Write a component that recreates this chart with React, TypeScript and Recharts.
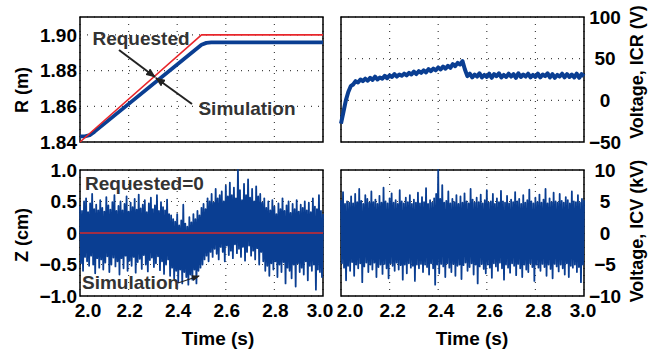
import { LineChart, Line, XAxis, YAxis, CartesianGrid, ReferenceArea } from "recharts";

const FONT = "'Liberation Sans', Arial, Helvetica, sans-serif";
const BLUE = "#0a3e92";
const RED = "#e8262b";

const xTicks = [2.0, 2.2, 2.4, 2.6, 2.8, 3.0];

// R (m): requested ramp vs simulation
const rReqTime = [2.0, 2.5, 3.0];
const rReq = [1.84, 1.9, 1.9];
const rSimTime = [2.0, 2.02, 2.04, 2.06, 2.5, 2.52, 2.54, 3.0];
const rSim = [1.8432, 1.8432, 1.8438, 1.8458, 1.8945, 1.8955, 1.8958, 1.8958];
const rTicks = [1.84, 1.86, 1.88, 1.9];

// Voltage ICR (V), one value every 10 ms from 2.00 s
const icr = [
  -28, -14, 0, 10, 17, 19, 23, 21.5, 25, 23,
  26, 23.5, 27, 24.5, 28.5, 25, 27.5, 26, 29.5, 26.5,
  30, 28, 31.5, 28.5, 31, 29.5, 32, 30, 33, 31,
  34.5, 31.5, 35, 33, 36, 33.5, 37.5, 35, 38, 36,
  39.5, 37, 40.5, 38, 41.5, 39, 43.5, 41, 45, 43,
  47, 37, 29, 32, 27.5, 31, 28.5, 32.5, 27.5, 30.5,
  28, 32, 27, 31.5, 29, 32.5, 27.5, 30.5, 28, 32,
  28.5, 31.5, 27, 32.5, 28, 31, 28.5, 32, 27.5, 30.5,
  28, 32, 27.5, 31, 29, 32.5, 27.5, 31.5, 27, 30.5,
  28.5, 32, 27.5, 31.5, 28, 31, 27.5, 32, 27, 31.5,
  29,
];
const icrTicks = [-50, 0, 50, 100];

// Z (cm), 240 samples per second from 2.00 s
const zSim = [
  0.42, -0.48, 0.35, -0.6, 0.5, -0.38, 0.55, -0.45, 0.33, -0.52,
  0.47, -0.36, 0.62, -0.5, 0.38, -0.64, 0.45, -0.4, 0.36, -0.55,
  0.52, -0.42, 0.4, -0.58, 0.34, -0.47, 0.57, -0.37, 0.44, -0.62,
  0.37, -0.5, 0.49, -0.39, 0.6, -0.53, 0.35, -0.45, 0.43, -0.66,
  0.5, -0.4, 0.36, -0.56, 0.46, -0.36, 0.58, -0.6, 0.34, -0.44,
  0.48, -0.52, 0.41, -0.38, 0.54, -0.63, 0.37, -0.46, 0.61, -0.41,
  0.39, -0.57, 0.45, -0.35, 0.52, -0.5, 0.33, -0.61, 0.47, -0.43,
  0.56, -0.39, 0.38, -0.54, 0.44, -0.48, 0.6, -0.37, 0.35, -0.59,
  0.49, -0.45, 0.41, -0.65, 0.36, -0.5, 0.53, -0.42, 0.3, -0.68,
  0.28, -0.55, 0.22, -0.72, 0.18, -0.6, 0.3, -0.78, 0.12, -0.58,
  0.2, -0.8, 0.45, -0.62, 0.15, -0.7, 0.1, -0.82, 0.25, -0.66,
  0.17, -0.74, 0.3, -0.58, 0.22, -0.8, 0.35, -0.6, 0.28, -0.55,
  0.4, -0.5, 0.46, -0.42, 0.38, -0.36, 0.55, -0.45, 0.5, -0.3,
  0.62, -0.38, 0.48, -0.25, 0.7, -0.33, 0.55, -0.42, 0.6, -0.22,
  0.66, -0.3, 0.5, -0.45, 0.75, -0.2, 0.58, -0.35, 0.8, -0.28,
  0.6, -0.4, 0.72, -0.18, 0.55, -0.32, 1.0, -0.25, 0.68, -0.38,
  0.52, -0.22, 0.78, -0.44, 0.6, -0.3, 0.85, -0.2, 0.56, -0.36,
  0.7, -0.28, 0.5, -0.42, 0.74, -0.24, 0.58, -0.5, 0.62, -0.3,
  0.48, -0.45, 0.55, -0.6, 0.4, -0.52, 0.5, -0.68, 0.36, -0.48,
  0.52, -0.58, 0.42, -0.45, 0.3, -0.7, 0.47, -0.5, 0.38, -0.62,
  0.55, -0.46, 0.35, -0.8, 0.44, -0.55, 0.5, -0.6, 0.32, -0.72,
  0.46, -0.5, 0.38, -0.85, 0.52, -0.48, 0.34, -0.62, 0.45, -0.55,
  0.4, -0.66, 0.5, -0.45, 0.36, -0.75, 0.48, -0.52, 0.33, -0.6,
  0.55, -0.5, 0.42, -0.9, 0.38, -0.58, 0.6, -0.62, 0.35, -0.7,
  0.3,
];
const zReq = [0, 0];
const zReqTime = [2.0, 3.0];
const zTicks = [-1, -0.5, 0, 0.5, 1];

// Voltage ICV (kV), 240 samples per second from 2.00 s
const icv = [
  5.2, -4.8, 6.5, -5.5, 4.6, -7.5, 5, -5.2, 4.8, -6,
  5.8, -4.6, 4.7, -6.8, 6.2, -5, 4.9, -5.6, 7, -4.8,
  5.1, -7.8, 4.6, -5.3, 6, -4.7, 5.4, -6.2, 4.8, -5,
  6.6, -5.8, 4.9, -4.7, 5.3, -7, 4.6, -5.4, 5.9, -5,
  4.8, -6.5, 7.2, -4.9, 5, -5.6, 4.7, -7.2, 5.5, -4.8,
  6.3, -5.2, 4.8, -6, 5.2, -4.7, 4.6, -5.8, 6.8, -5.1,
  5, -7.4, 4.7, -5, 5.6, -6.4, 4.9, -4.8, 6, -5.5,
  4.6, -5.2, 5.3, -7.6, 4.8, -5, 6.4, -5.6, 4.7, -4.9,
  5.7, -6.2, 4.9, -5, 7.1, -5.4, 4.6, -6.6, 5.2, -4.8,
  4.8, -5.6, 5.5, -8.2, 6.2, -5, 10, -6.4, 5.4, -4.9,
  7.6, -5.3, 4.8, -7, 5.1, -4.8, 6.6, -5.5, 4.7, -6.2,
  5.4, -4.9, 4.9, -6.8, 6, -5.2, 4.6, -5, 5.8, -7.3,
  4.8, -5.1, 6.3, -4.7, 5, -6, 4.7, -5.4, 7, -4.8,
  5.3, -6.6, 4.8, -5, 5.6, -8, 4.9, -5.3, 6.1, -4.9,
  4.7, -5.7, 5.2, -6.4, 6.8, -5, 4.8, -5.5, 5, -7.1,
  6.2, -4.8, 4.6, -5.3, 5.5, -6, 4.9, -4.7, 6.7, -5.6,
  5, -7.4, 4.8, -5, 5.9, -5.5, 4.7, -6.3, 5.3, -4.8,
  4.9, -5.2, 6.5, -6.7, 5, -4.9, 5.4, -5.6, 4.6, -7,
  6, -5, 4.8, -5.8, 5.2, -6.2, 6.9, -4.8, 5, -5.4,
  4.7, -7.6, 5.6, -5, 4.9, -5.5, 6.1, -6, 4.8, -4.9,
  5.3, -5.4, 7, -6.8, 4.7, -5, 5.5, -5.7, 4.9, -7.2,
  6.4, -4.9, 5, -5.3, 4.8, -6.1, 6.2, -5, 5.1, -5.6,
  4.8, -6.6, 5.7, -4.8, 5.2, -7, 4.7, -5.2, 6.6, -5.5,
  5, -5, 4.9, -6.2, 6, -5.4, 4.8, -7.8, 5.4, -5,
  5.2,
];
const icvTicks = [-10, -5, 0, 5, 10];

type Pt = { t: number; v: number };
type Series = { data: Pt[]; color: string; width: number };

const pair = (ts: number[], vs: number[]): Pt[] => vs.map((v, i) => ({ t: ts[i], v }));
const sampled = (vs: number[], rate: number): Pt[] => vs.map((v, i) => ({ t: 2 + i / rate, v }));

const minus = (s: string) => s.replace("-", "\u2212");

const makeXTick = (shifts: number[]) => (p: any) => (
  <text
    x={p.x + (shifts[p.index] ?? 0)}
    y={p.y}
    dy="0.71em"
    textAnchor="middle"
    fontSize={19}
    fontWeight={700}
    fontFamily={FONT}
    fill="#000"
  >
    {Number(p.payload.value).toFixed(1)}
  </text>
);

function Panel(props: {
  box: [number, number, number, number];
  margin: { top: number; right: number; bottom: number; left: number };
  side: "left" | "right";
  domain: [number, number];
  ticks: number[];
  fmt: (v: number) => string;
  series: Series[];
  showX?: boolean;
  shifts?: number[];
}) {
  const { box, margin, side, domain, ticks, fmt, series, showX, shifts } = props;
  const tickStyle: any = { fontSize: 19, fontWeight: 700, fill: "#000", fontFamily: FONT };
  if (side === "right") tickStyle.textAnchor = "middle";
  return (
    <div style={{ position: "absolute", left: box[0], top: box[1] }}>
      <LineChart width={box[2]} height={box[3]} margin={margin}>
        <CartesianGrid stroke="#444" strokeDasharray="1 6" strokeWidth={1.2} />
        <XAxis
          type="number"
          dataKey="t"
          domain={[2, 3]}
          ticks={xTicks}
          interval={0}
          hide={!showX}
          height={34}
          axisLine={false}
          tickLine={false}
          tickSize={0}
          tickMargin={8}
          tick={makeXTick(shifts ?? [])}
        />
        <YAxis
          orientation={side}
          type="number"
          width={side === "left" ? 80 : 68}
          domain={domain}
          ticks={ticks}
          interval={0}
          axisLine={false}
          tickLine={false}
          tickSize={0}
          tickMargin={side === "left" ? 3 : 21}
          tickFormatter={fmt}
          tick={tickStyle}
        />
        {series.map((s, i) => (
          <Line
            key={i}
            data={s.data}
            dataKey="v"
            type="linear"
            stroke={s.color}
            strokeWidth={s.width}
            strokeLinejoin="round"
            dot={false}
            isAnimationActive={false}
          />
        ))}
        <ReferenceArea
          x1={2}
          x2={3}
          y1={domain[0]}
          y2={domain[1]}
          fill="none"
          stroke="#000"
          strokeWidth={1.5}
          ifOverflow="visible"
        />
      </LineChart>
    </div>
  );
}

export default function App() {
  const label = { fontFamily: FONT, fontWeight: 700, fill: "#000" } as const;
  const note = { fontFamily: FONT, fontWeight: 700, fill: "#333", fontSize: 19 } as const;
  return (
    <div
      style={{
        position: "absolute",
        left: 0,
        top: 0,
        width: 652,
        height: 357,
        background: "#fff",
        overflow: "hidden",
      }}
    >
      <Panel
        box={[0, 0, 345, 160]}
        margin={{ top: 17, right: 22, bottom: 18, left: 0 }}
        side="left"
        domain={[1.84, 1.91]}
        ticks={rTicks}
        fmt={(v) => v.toFixed(2)}
        series={[
          { data: pair(rSimTime, rSim), color: BLUE, width: 3.8 },
          { data: pair(rReqTime, rReq), color: RED, width: 1.6 },
        ]}
      />
      <Panel
        box={[320, 0, 332, 160]}
        margin={{ top: 17, right: 0, bottom: 18, left: 21 }}
        side="right"
        domain={[-50, 100]}
        ticks={icrTicks}
        fmt={(v) => minus(String(v))}
        series={[{ data: sampled(icr, 100), color: BLUE, width: 4 }]}
      />
      <Panel
        box={[0, 150, 345, 180]}
        margin={{ top: 20, right: 22, bottom: 0, left: 0 }}
        side="left"
        domain={[-1, 1]}
        ticks={zTicks}
        fmt={(v) => minus(v === 0 ? "0" : v.toFixed(1))}
        showX
        shifts={[8, 1, 1, 1, 1, -3]}
        series={[
          { data: sampled(zSim, 240), color: BLUE, width: 1.8 },
          { data: pair(zReqTime, zReq), color: "#d42a2a", width: 1.6 },
        ]}
      />
      <Panel
        box={[320, 150, 332, 180]}
        margin={{ top: 20, right: 0, bottom: 0, left: 21 }}
        side="right"
        domain={[-10, 10]}
        ticks={icvTicks}
        fmt={(v) => minus(String(v))}
        showX
        shifts={[9, 3, 3, 3, 3, -1]}
        series={[{ data: sampled(icv, 240), color: BLUE, width: 1.8 }]}
      />

      <svg
        width={652}
        height={357}
        style={{ position: "absolute", left: 0, top: 0, pointerEvents: "none" }}
      >
        <defs>
          <marker
            id="ah"
            markerWidth="10"
            markerHeight="8"
            refX="9"
            refY="4"
            orient="auto"
            markerUnits="userSpaceOnUse"
          >
            <path d="M0,0 L10,4 L0,8 z" fill="#222" />
          </marker>
          <marker
            id="ahs"
            markerWidth="8"
            markerHeight="6"
            refX="7"
            refY="3"
            orient="auto"
            markerUnits="userSpaceOnUse"
          >
            <path d="M0,0 L8,3 L0,6 z" fill="#222" />
          </marker>
        </defs>

        {/* axis titles */}
        <text {...label} fontSize={18} x={22} y={90} textAnchor="middle" dominantBaseline="central" transform="rotate(-90 22 90)">
          R (m)
        </text>
        <text {...label} fontSize={18} x={22} y={235} textAnchor="middle" dominantBaseline="central" transform="rotate(-90 22 235)">
          Z (cm)
        </text>
        <text {...label} fontSize={18} x={637} y={72} textAnchor="middle" dominantBaseline="central" transform="rotate(-90 637 72)">
          Voltage, ICR (V)
        </text>
        <text {...label} fontSize={18} x={637} y={231} textAnchor="middle" dominantBaseline="central" transform="rotate(-90 637 231)">
          Voltage, ICV (kV)
        </text>
        <text {...label} fontSize={19} x={218} y={338} textAnchor="middle" dominantBaseline="central">
          Time (s)
        </text>
        <text {...label} fontSize={19} x={472} y={338} textAnchor="middle" dominantBaseline="central">
          Time (s)
        </text>

        {/* annotations */}
        <text {...note} x={141} y={38} textAnchor="middle" dominantBaseline="central">
          Requested
        </text>
        <line x1={119} y1={50} x2={155} y2={77} stroke="#222" strokeWidth={2} markerEnd="url(#ah)" />
        <text {...note} x={247} y={108} textAnchor="middle" dominantBaseline="central">
          Simulation
        </text>
        <line x1={192} y1={104} x2={156} y2={78} stroke="#222" strokeWidth={2} markerEnd="url(#ah)" />

        <text {...note} x={85} y={183} dominantBaseline="central">
          Requested=0
        </text>
        <text {...note} x={82} y={282} dominantBaseline="central">
          Simulation
        </text>
        <line x1={178} y1={283} x2={199} y2={276} stroke="#222" strokeWidth={1.3} markerEnd="url(#ahs)" />
      </svg>
    </div>
  );
}
